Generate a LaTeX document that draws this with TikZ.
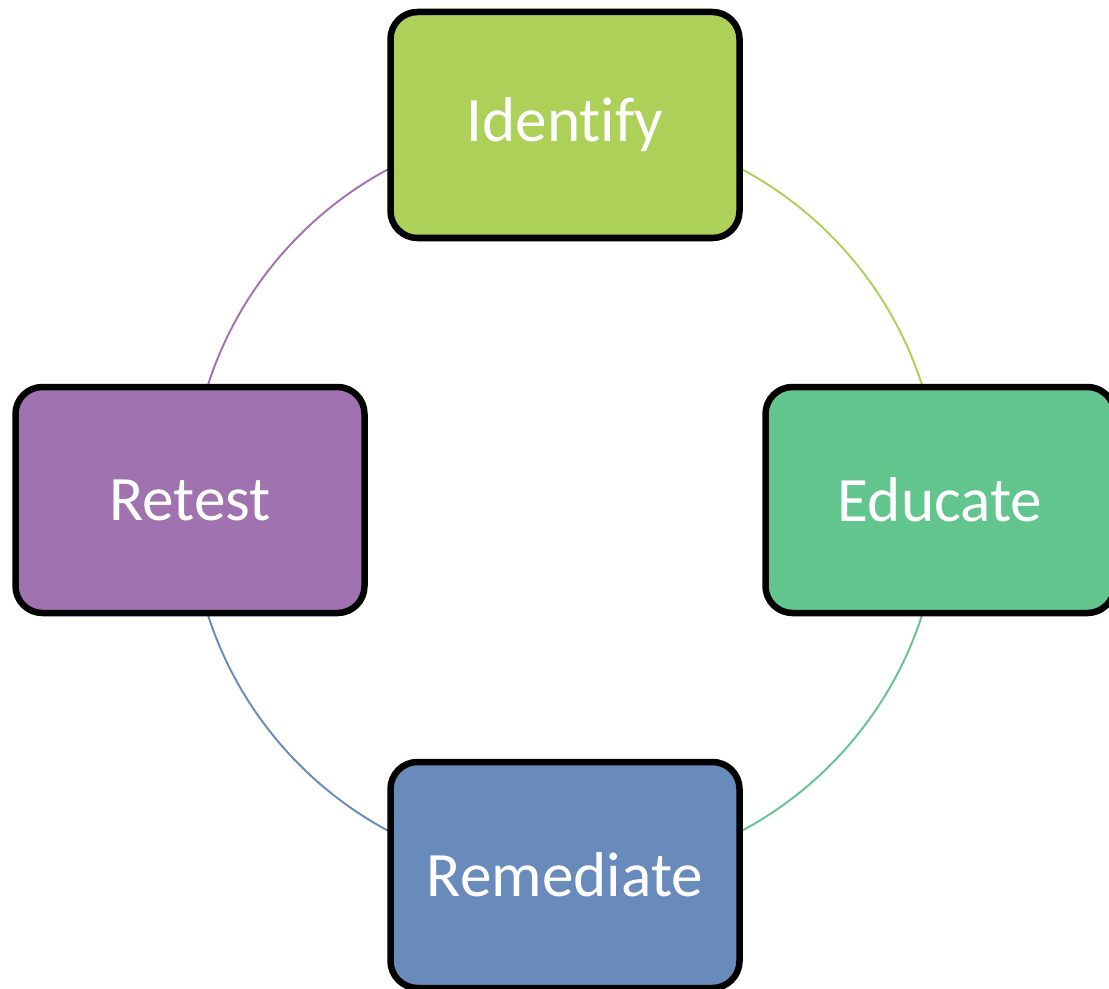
\documentclass[tikz,border=0pt]{standalone}
\usepackage{fontspec}
\setmainfont{Carlito}[Ligatures=NoCommon]
\usepackage{tikz}
\usetikzlibrary{backgrounds}
\usepackage{xcolor}

\definecolor{identifycol}{RGB}{172,208,88}
\definecolor{educatecol}{RGB}{98,197,142}
\definecolor{remediatecol}{RGB}{105,139,187}
\definecolor{retestcol}{RGB}{160,115,176}

\tikzset{
  stepbox/.style={draw=black, line width=0.13cm, rounded corners=0.54cm,
    minimum width=6.98cm, minimum height=4.52cm, inner sep=0pt,
    text=white, font=\fontsize{36}{43}\selectfont},
  cycle/.style={line width=1.1pt}
}

\begin{document}
\begin{tikzpicture}
\useasboundingbox (0,0) rectangle (22.18,19.76);
\node[stepbox, fill=identifycol] (identify) at (11.3,17.26) {Identify};
\node[stepbox, fill=educatecol] (educate) at (18.8,9.76) {Educate};
\node[stepbox, fill=remediatecol] (remediate) at (11.3,2.26) {Remediate};
\node[stepbox, fill=retestcol] (retest) at (3.8,9.76) {Retest};
% ring behind the boxes
\begin{scope}[on background layer]
\draw[cycle, identifycol] (identify.center) arc[start angle=90, end angle=0, radius=7.5];
\draw[cycle, educatecol] (educate.center) arc[start angle=0, end angle=-90, radius=7.5];
\draw[cycle, remediatecol] (remediate.center) arc[start angle=270, end angle=180, radius=7.5];
\draw[cycle, retestcol] (retest.center) arc[start angle=180, end angle=90, radius=7.5];
\end{scope}
\end{tikzpicture}
\end{document}
